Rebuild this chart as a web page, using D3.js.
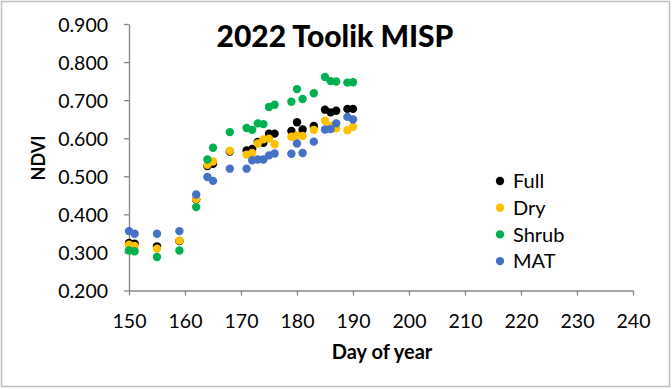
<!DOCTYPE html>
<html><head><meta charset="utf-8">
<script src="https://cdn.jsdelivr.net/npm/d3@7"></script>
<style>body{margin:0;background:#fff;}svg{display:block;font-family:Lato,"Open Sans",sans-serif;}</style>
</head><body>
<script>
const days = [150,151,155,159,162,164,165,168,171,172,173,174,175,176,179,180,181,183,185,186,187,189,190];
const full  = [0.325,0.323,0.316,0.330,0.439,0.527,0.533,0.565,0.568,0.572,0.590,0.588,0.612,0.612,0.619,0.642,0.623,0.632,0.675,0.668,0.672,0.677,0.677];
const dry   = [0.320,0.317,0.310,0.331,0.440,0.530,0.539,0.567,0.557,0.561,0.586,0.597,0.599,0.584,0.604,0.607,0.606,0.622,0.646,0.632,0.626,0.621,0.630];
const shrub = [0.305,0.303,0.288,0.305,0.419,0.544,0.575,0.616,0.627,0.622,0.639,0.637,0.682,0.688,0.696,0.729,0.703,0.718,0.761,0.750,0.749,0.746,0.747];
const mat   = [0.356,0.349,0.349,0.356,0.452,0.498,0.488,0.520,0.520,0.542,0.544,0.544,0.555,0.560,0.559,0.586,0.561,0.591,0.623,0.624,0.639,0.656,0.649];
const seriesNames = ["Full","Dry","Shrub","MAT"];
const seriesColors = ["#000000","#FFC000","#00B050","#4472C4"];
const xTicks = [150,160,170,180,190,200,210,220,230,240];
const yTicks = [0.2,0.3,0.4,0.5,0.6,0.7,0.8,0.9];
const title = "2022 Toolik MISP";

const W = 672, H = 389;
const svg = d3.select("body").append("svg").attr("width", W).attr("height", H);
svg.append("rect").attr("x",1.5).attr("y",1.5).attr("width",W-4).attr("height",H-4)
  .attr("fill","#fff").attr("stroke","#bfbfbf").attr("stroke-width",1.5);

const x = d3.scaleLinear().domain([150,240]).range([129,633]);
const y = d3.scaleLinear().domain([0.2,0.9]).range([290.5,24]);

const axisColor = "#868686";
const gx = svg.append("g").attr("transform",`translate(0,${y(0.2)})`)
  .call(d3.axisBottom(x).tickValues(xTicks).tickFormat(d3.format("d")).tickSize(5).tickSizeOuter(0));
const gy = svg.append("g").attr("transform",`translate(${x(150)},0)`)
  .call(d3.axisLeft(y).tickValues(yTicks).tickFormat(d3.format(".3f")).tickSize(5).tickSizeOuter(0));
[gx,gy].forEach(g=>{
  g.select(".domain").attr("stroke",axisColor).attr("stroke-width",1.3);
  g.selectAll(".tick line").attr("stroke",axisColor).attr("stroke-width",1.3);
  g.selectAll(".tick text").attr("fill","#000").style("font-size","19.5px").style("font-family","Lato,'Open Sans',sans-serif");
});
gx.selectAll(".tick text").attr("dy","0").attr("y",37);
gy.selectAll(".tick text").attr("x",-21).attr("dy","0.36em");

const allSeries = [full, dry, shrub, mat];
allSeries.forEach((vals,i)=>{
  svg.append("g").selectAll("circle").data(days.map((d,j)=>[d,vals[j]])).join("circle")
    .attr("cx",d=>x(d[0])).attr("cy",d=>y(d[1])).attr("r",4.2)
    .attr("fill",seriesColors[i]);
});

svg.append("text").attr("x",335).attr("y",47).attr("text-anchor","middle")
  .style("font-size","30px").style("font-weight","900").text(title);
svg.append("text").attr("transform",`translate(45,158) rotate(-90)`).attr("text-anchor","middle")
  .style("font-size","18px").style("font-weight","bold").text("NDVI");
svg.append("text").attr("x",382).attr("y",359).attr("text-anchor","middle")
  .style("font-size","20px").style("font-weight","bold").text("Day of year");

const leg = svg.append("g");
seriesNames.forEach((n,i)=>{
  const yy = 181 + i*26.7;
  leg.append("circle").attr("cx",500).attr("cy",yy).attr("r",4.2).attr("fill",seriesColors[i]);
  leg.append("text").attr("x",513).attr("y",yy).attr("dy","0.36em").style("font-size","20px").text(n);
});
</script>
</body></html>
